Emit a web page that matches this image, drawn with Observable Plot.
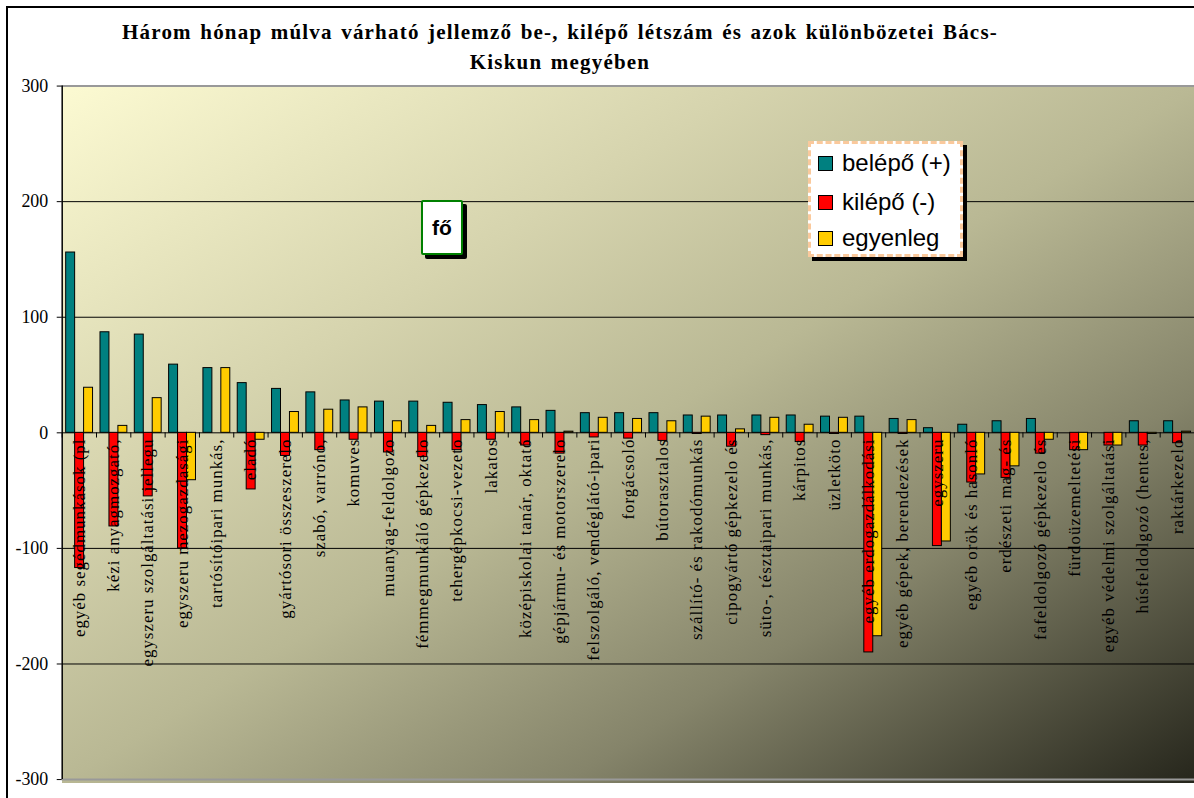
<!DOCTYPE html>
<html><head><meta charset="utf-8">
<script src="https://cdn.jsdelivr.net/npm/d3@7"></script>
<script src="https://cdn.jsdelivr.net/npm/@observablehq/plot@0.6"></script>
<style>
body{margin:0;background:#fff;}
#wrap{position:relative;width:1194px;height:798px;overflow:hidden;background:#fff;}
#border{position:absolute;left:6px;top:6px;width:1300px;height:900px;border-left:2px solid #000;border-top:2px solid #000;}
#title{position:absolute;left:60px;width:1000px;top:17px;text-align:center;font:bold 21px "Liberation Serif",serif;line-height:30px;letter-spacing:1.2px;word-spacing:2px;}
#bg{position:absolute;left:62px;top:86px;width:1138px;height:697px;background:linear-gradient(to bottom right,#FCFAD2 0%,#D6D4AE 30%,#B9B894 50%,#85846A 72%,#25251B 100%);}
#chart{position:absolute;left:0;top:0;}
#chart g[aria-label="text"] text{letter-spacing:1px;}
#legend{position:absolute;left:808px;top:141px;width:149px;height:110px;background:#fff;border:3px dashed #FAC99C;box-shadow:4px 4px 0 #000;font:24px "Liberation Sans",Arial,sans-serif;}
#legend .row{position:absolute;left:7px;height:28px;display:flex;align-items:center;white-space:nowrap;}
#legend .sw{width:13px;height:13px;border:1px solid #000;margin-right:9px;}
#fo{position:absolute;left:421px;top:200px;width:38px;height:51px;background:#fff;border:2px solid #008000;border-radius:2px;box-shadow:4px 4px 0 #000;font:bold 21px "Liberation Sans",Arial,sans-serif;display:flex;align-items:center;justify-content:center;}
</style></head>
<body>
<div id="wrap">
  <div id="border"></div>
  <div id="title">Három hónap múlva várható jellemző be-, kilépő létszám és azok különbözetei Bács-<br>Kiskun megyében</div>
  <div id="bg"></div>
  <div id="chart"></div>
  <div id="legend"></div>
  <div id="fo">fő</div>
</div>
<script>
const categories = [
  "egyéb segédmunkások (pl",
  "kézi anyagmozgató,",
  "egyszeru szolgáltatási jellegu",
  "egyszeru mezogazdasági",
  "tartósítóipari munkás,",
  "eladó",
  "gyártósori összeszerelo",
  "szabó, varróno,",
  "komuves",
  "muanyag-feldolgozo",
  "fémmegmunkáló gépkezelo",
  "tehergépkocsi-vezeto",
  "lakatos",
  "középiskolai tanár, oktató",
  "gépjármu- és motorszerelo",
  "felszolgáló, vendéglátó-ipari",
  "forgácsoló",
  "bútorasztalos",
  "szállító- és rakodómunkás",
  "cipogyártó gépkezelo és",
  "süto-, tésztaipari munkás,",
  "kárpitos",
  "üzletköto",
  "egyéb erdogazdálkodási",
  "egyéb gépek, berendezések",
  "egyszeru",
  "egyéb orök és hasonló",
  "erdészeti mag- és",
  "fafeldolgozó gépkezelo és",
  "fürdoüzemeltetési",
  "egyéb védelmi szolgáltatási",
  "húsfeldolgozó (hentes,",
  "raktárkezelo"
];
const seriesNames = ["belépő (+)", "kilépő (-)", "egyenleg"];
const seriesColors = ["#008080", "#FF0000", "#FFCC00"];
const belepo   = [156, 87, 85, 59, 56, 43, 38, 35, 28, 27, 27, 26, 24, 22, 19, 17, 17, 17, 15, 15, 15, 15, 14, 14, 12, 4, 7, 10, 12, 0, 0, 10, 10];
const kilepo   = [-117, -81, -55, -100, 0, -49, -20, -15, -6, -17, -21, -15, -6, -11, -18, -4, -5, -7, -1, -12, -2, -8, -1, -190, -1, -98, -43, -39, -18, -15, -11, -11, -9];
const egyenleg = [39, 6, 30, -41, 56, -6, 18, 20, 22, 10, 6, 11, 18, 11, 1, 13, 12, 10, 14, 3, 13, 7, 13, -176, 11, -94, -36, -29, -6, -15, -11, -1, 1];
const yTicks = [-300, -200, -100, 0, 100, 200, 300];
const gridValues = [-200, -100, 100, 200];

const values = [belepo, kilepo, egyenleg];
const W = 1200, ML = 62;
const step = (W - ML) / categories.length;
const barW = 9, lead = 4;
const serif = "'Liberation Serif', 'Times New Roman', serif";

const barMarks = values.map((arr, i) => {
  const rows = categories.map((c, j) => ({cat: c, v: arr[j]}));
  const left = lead + i * barW;
  return Plot.barY(rows, {
    x: "cat", y: "v", fill: seriesColors[i], stroke: "#000", strokeWidth: 1,
    insetLeft: left, insetRight: step - left - barW
  });
});

const chart = Plot.plot({
  width: W, height: 798,
  marginLeft: ML, marginRight: 0, marginTop: 86, marginBottom: 15,
  style: {background: "transparent", fontFamily: serif, fontSize: "17px", color: "#000", overflow: "visible"},
  x: {type: "band", domain: categories, padding: 0, round: false, axis: null},
  y: {domain: [-300, 300], axis: null},
  marks: [
    Plot.gridY(gridValues, {stroke: "#000", strokeOpacity: 1, strokeWidth: 1}),
    Plot.ruleY([300, -300], {stroke: "#999", strokeWidth: 2}),
    Plot.ruleY([0], {stroke: "#000", strokeWidth: 1}),
    Plot.ruleX(categories, {x: d => d, dx: -step / 2, y1: 0, y2: -4.5, stroke: "#000"}),
    ...barMarks,
    Plot.text(categories, {x: d => d, y: -5, text: d => d, rotate: -90, textAnchor: "end", lineAnchor: "middle", fontSize: 17, fontFamily: serif, fill: "#000"}),
    Plot.ruleX([categories[0]], {dx: -step / 2, y1: -300, y2: 300, stroke: "#000", strokeWidth: 1.5}),
    Plot.axisY(yTicks, {tickSize: 5, tickPadding: 9, fontSize: 18, fontFamily: serif, anchor: "left", label: null, tickFormat: d => String(d)})
  ]
});
document.getElementById("chart").appendChild(chart);

const leg = document.getElementById("legend");
const rowTops = [5, 44, 80];
seriesNames.forEach((n, i) => {
  const r = document.createElement("div");
  r.className = "row";
  r.style.top = rowTops[i] + "px";
  const sw = document.createElement("div");
  sw.className = "sw";
  sw.style.background = seriesColors[i];
  const t = document.createElement("span");
  t.textContent = n;
  r.appendChild(sw); r.appendChild(t);
  leg.appendChild(r);
});
</script>
</body></html>
